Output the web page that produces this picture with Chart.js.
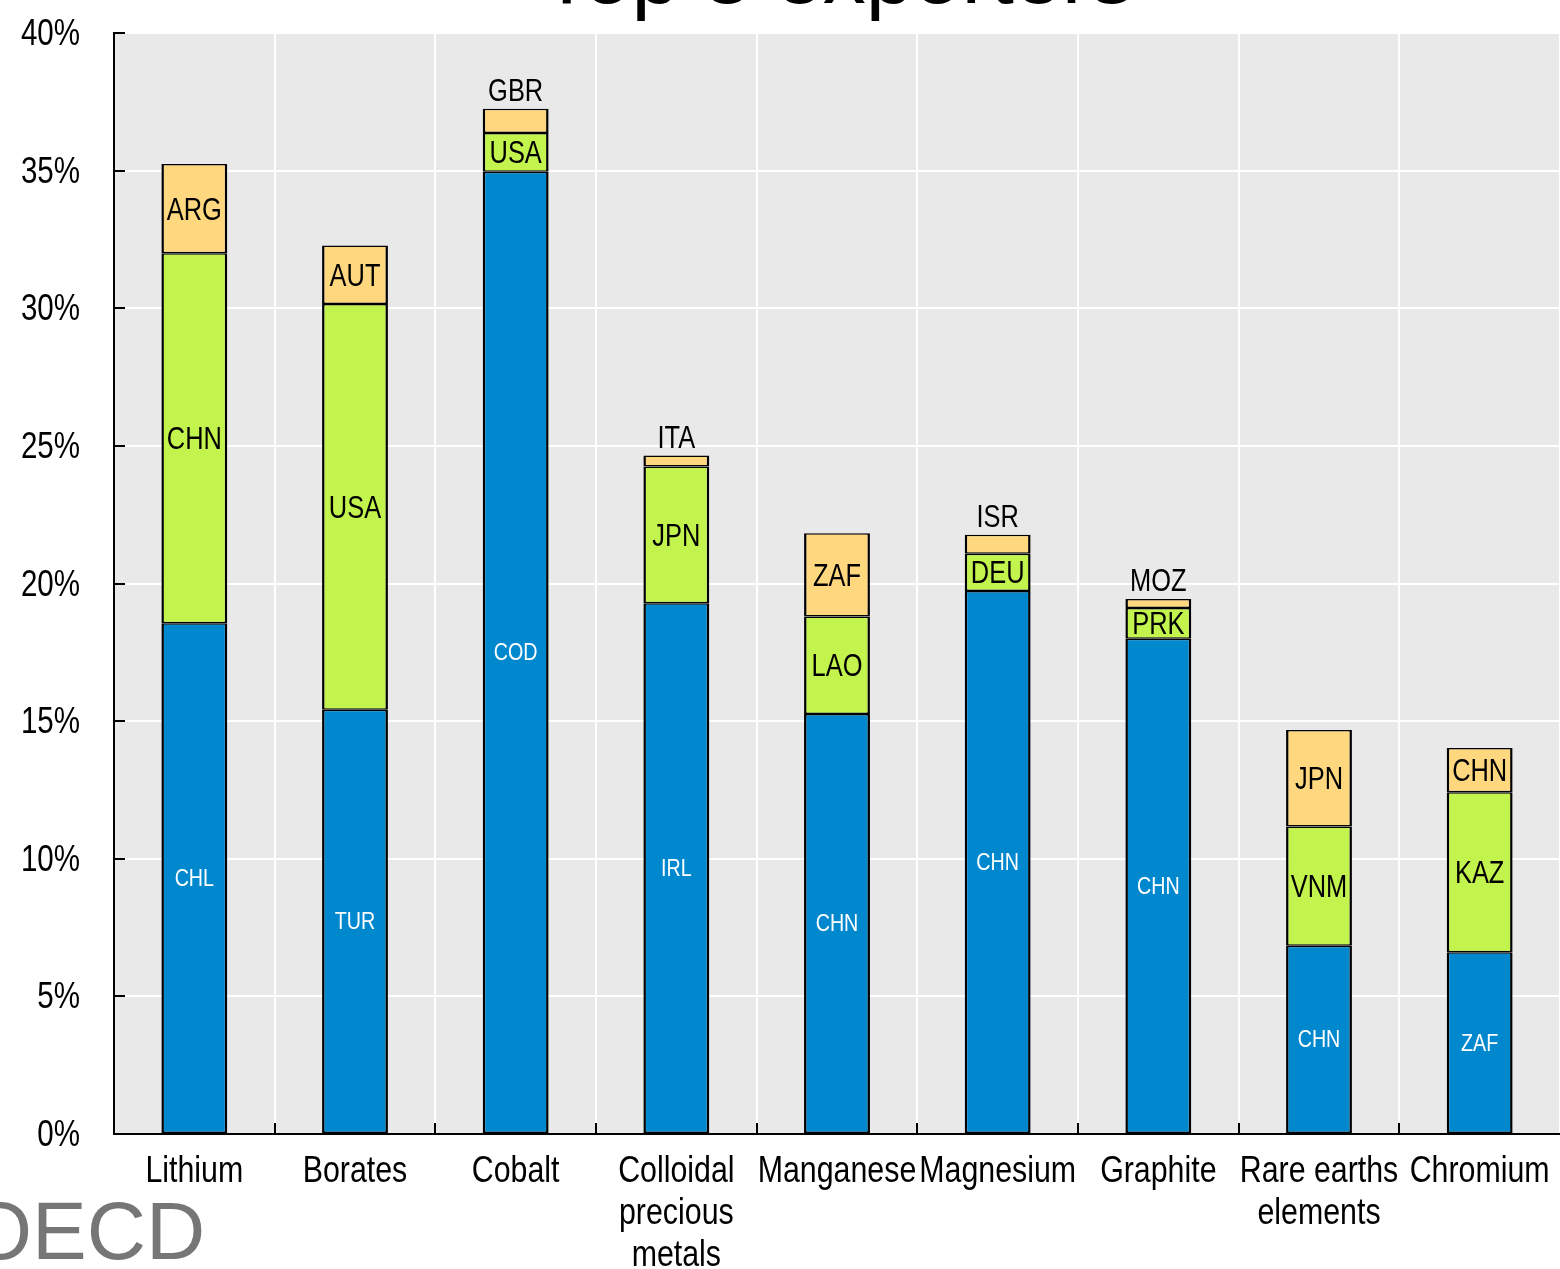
<!DOCTYPE html>
<html>
<head>
<meta charset="utf-8">
<script src="https://cdn.jsdelivr.net/npm/chart.js@4/dist/chart.umd.min.js"></script>
<style>
  html, body { margin: 0; padding: 0; background: #ffffff; overflow: hidden; }
  #wrap { position: relative; width: 1560px; height: 1269px; }
</style>
</head>
<body>
<div id="wrap"><canvas id="c" width="1560" height="1269"></canvas></div>
<script>
// Commodities on the x axis (multi-line labels as arrays)
const categories = [
  'Lithium', 'Borates', 'Cobalt', ['Colloidal', 'precious', 'metals'],
  'Manganese', 'Magnesium', 'Graphite', ['Rare earths', 'elements'], 'Chromium'
];

// Export shares (%) of the three largest exporters, stacked bottom to top
const firstShare  = [18.56, 15.41, 34.96, 19.28, 15.26, 19.73, 17.99, 6.84, 6.60];
const secondShare = [13.44, 14.74,  1.41,  4.97,  3.54,  1.35,  1.12, 4.33, 5.82];
const thirdShare  = [ 3.24,  2.13,  0.88,  0.40,  3.03,  0.69,  0.33, 3.51, 1.60];

// Country codes for each stacked segment
const firstCountry  = ['CHL', 'TUR', 'COD', 'IRL', 'CHN', 'CHN', 'CHN', 'CHN', 'ZAF'];
const secondCountry = ['CHN', 'USA', 'USA', 'JPN', 'LAO', 'DEU', 'PRK', 'VNM', 'KAZ'];
const thirdCountry  = ['ARG', 'AUT', 'GBR', 'ITA', 'ZAF', 'ISR', 'MOZ', 'JPN', 'CHN'];

// Value axis
const yMin = 0, yMax = 40, yStep = 5;

const SANS = "'Liberation Sans', Arial, sans-serif";
const NARROW_SCALE = 0.82;   // horizontal squeeze giving a narrow face

const BLUE = '#0088cf', GREEN = '#c3f44e', ORANGE = '#ffd77f', PANEL = '#e9e9e9';

// Draws text with a condensed look by squeezing it horizontally
function narrowText(ctx, text, x, y, size, align, baseline, color) {
  ctx.save();
  ctx.translate(x, y);
  ctx.scale(NARROW_SCALE, 1);
  ctx.font = size + 'px ' + SANS;
  ctx.textAlign = align;
  ctx.textBaseline = baseline;
  ctx.fillStyle = color;
  ctx.fillText(text, 0, 0);
  ctx.restore();
}

// Grey panel behind the plot
const panelPlugin = {
  id: 'panel',
  beforeDraw(chart) {
    const { ctx, chartArea: a } = chart;
    ctx.save();
    ctx.fillStyle = PANEL;
    ctx.fillRect(a.left, a.top, a.right - a.left, a.bottom - a.top);
    ctx.restore();
  }
};

// Country labels on each segment
const segmentLabels = {
  id: 'segmentLabels',
  afterDatasetsDraw(chart) {
    const { ctx } = chart;
    const codes = [firstCountry, secondCountry, thirdCountry];
    const last = chart.data.datasets.length - 1;
    chart.data.datasets.forEach((ds, di) => {
      const meta = chart.getDatasetMeta(di);
      meta.data.forEach((bar, i) => {
        const { x, y, base } = bar.getProps(['x', 'y', 'base'], true);
        const h = base - y;
        const text = codes[di][i];
        if (di === 0) {
          narrowText(ctx, text, x, (y + base) / 2 + 8, 24, 'center', 'alphabetic', '#ffffff');
        } else if (di === last && h < 28) {
          narrowText(ctx, text, x, y - 8, 31, 'center', 'alphabetic', '#000000');
        } else {
          narrowText(ctx, text, x, (y + base) / 2 + 11, 31, 'center', 'alphabetic', '#000000');
        }
      });
    });
  }
};

// Axis labels, inward tick marks, heading and logo
const frameExtras = {
  id: 'frameExtras',
  afterDraw(chart) {
    const { ctx, chartArea: a } = chart;
    const xs = chart.scales.x, ys = chart.scales.y;

    // value labels
    ys.ticks.forEach((t, i) => {
      const py = ys.getPixelForTick(i);
      narrowText(ctx, t.value + '%', 80, py + 12, 36, 'right', 'alphabetic', '#000000');
    });

    // category labels
    xs.ticks.forEach((t, i) => {
      const px = xs.getPixelForTick(i);
      const lines = [].concat(categories[i]);
      lines.forEach((ln, k) => {
        narrowText(ctx, ln, px, a.bottom + 48 + k * 42, 37, 'center', 'alphabetic', '#000000');
      });
    });

    ctx.save();
    ctx.strokeStyle = '#000000';
    ctx.lineWidth = 2;
    ctx.beginPath();
    for (let v = yMin; v <= yMax; v += yStep) {
      const py = Math.round(ys.getPixelForValue(v));
      ctx.moveTo(a.left, py);
      ctx.lineTo(a.left + 11, py);
    }
    const n = categories.length;
    for (let k = 1; k < n; k++) {
      const px = Math.round((xs.getPixelForValue(k - 1) + xs.getPixelForValue(k)) / 2);
      ctx.moveTo(px, a.bottom);
      ctx.lineTo(px, a.bottom - 11);
    }
    ctx.stroke();

    // Heading
    ctx.fillStyle = '#000000';
    ctx.font = '86px ' + SANS;
    ctx.textAlign = 'center';
    ctx.textBaseline = 'alphabetic';
    ctx.fillText('Top 3 exporters', (a.left + a.right) / 2, 3);

    // OECD logo
    ctx.fillStyle = '#767676';
    ctx.font = '82px ' + SANS;
    ctx.textAlign = 'left';
    const oW = ctx.measureText('O').width;
    ctx.fillText('OECD', 32 - oW, 1259);
    ctx.restore();
  }
};

const barStyle = {
  borderColor: '#000000',
  borderWidth: { left: 2.5, right: 2.5, top: 1.5, bottom: 1.5 },
  borderSkipped: false,
  barPercentage: 0.41,
  categoryPercentage: 1.0
};

new Chart(document.getElementById('c'), {
  type: 'bar',
  data: {
    labels: categories,
    datasets: [
      Object.assign({ label: 'First', data: firstShare, backgroundColor: BLUE }, barStyle),
      Object.assign({ label: 'Second', data: secondShare, backgroundColor: GREEN }, barStyle),
      Object.assign({ label: 'Third', data: thirdShare, backgroundColor: ORANGE }, barStyle)
    ]
  },
  options: {
    responsive: false,
    animation: false,
    devicePixelRatio: 1,
    layout: { padding: { top: 33, left: 0, right: 0, bottom: 0 } },
    plugins: { legend: { display: false }, tooltip: { enabled: false }, title: { display: false } },
    scales: {
      x: {
        stacked: true,
        offset: true,
        grid: { color: '#ffffff', lineWidth: 2, drawTicks: false, offset: true },
        border: { display: true, color: '#000000', width: 2 },
        ticks: { display: false, autoSkip: false, maxRotation: 0 },
        afterFit(s) { s.height = 135; s.paddingLeft = 0; s.paddingRight = 0; }
      },
      y: {
        stacked: true,
        min: yMin,
        max: yMax,
        grid: { color: '#ffffff', lineWidth: 2, drawTicks: false },
        border: { display: true, color: '#000000', width: 2 },
        ticks: { display: false, stepSize: yStep },
        afterFit(s) { s.width = 114; s.paddingTop = 0; s.paddingBottom = 0; }
      }
    }
  },
  plugins: [panelPlugin, segmentLabels, frameExtras]
});
</script>
</body>
</html>
